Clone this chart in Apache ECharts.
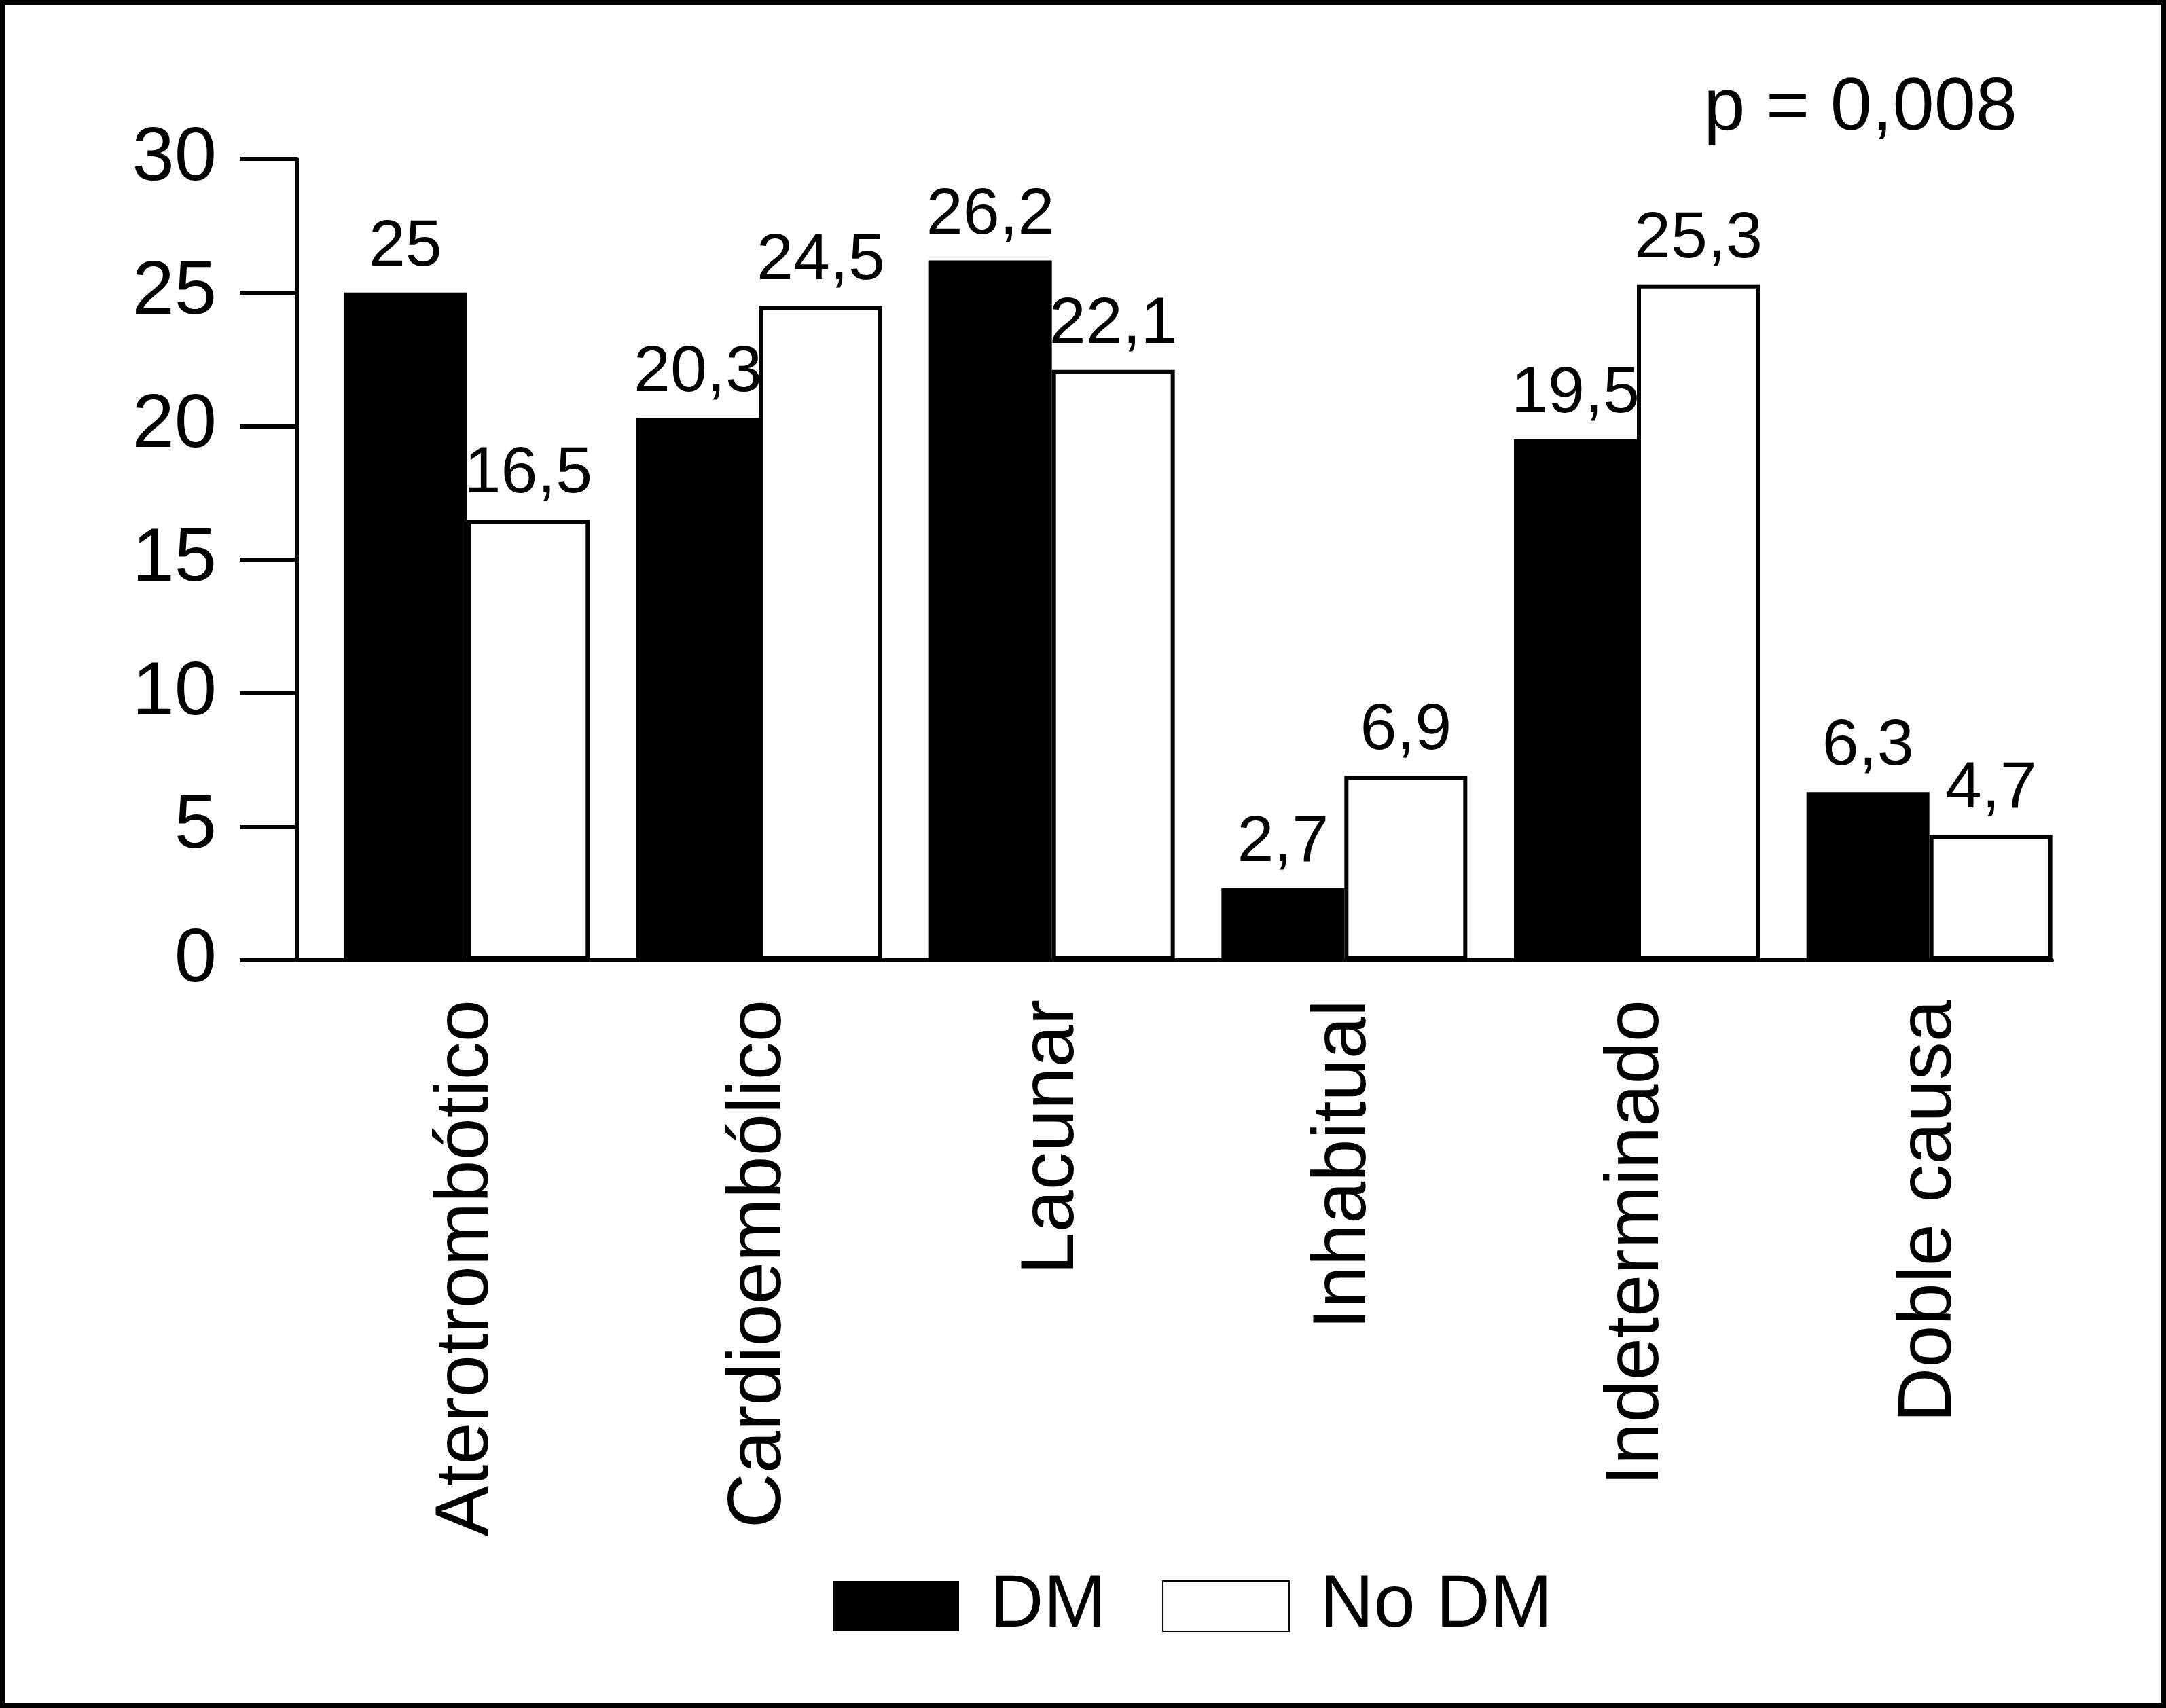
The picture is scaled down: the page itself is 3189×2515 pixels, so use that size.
<!DOCTYPE html>
<html>
<head>
<meta charset="utf-8">
<script src="https://cdn.jsdelivr.net/npm/echarts@6/dist/echarts.min.js"></script>
<style>
  html, body { margin: 0; padding: 0; background: #fff; }
  #chart { position: absolute; left: 0; top: 0; width: 3189px; height: 2515px; }
  #frame { position: absolute; left: 0; top: 0; width: 3189px; height: 2515px; box-sizing: border-box; border: 7px solid #000; pointer-events: none; }
</style>
</head>
<body>
<div id="chart"></div>
<div id="frame"></div>
<script>
const categories = ['Aterotrombótico', 'Cardioembólico', 'Lacunar', 'Inhabitual', 'Indeterminado', 'Doble causa'];
const dmValues = [25, 20.3, 26.2, 2.7, 19.5, 6.3];
const noDmValues = [16.5, 24.5, 22.1, 6.9, 25.3, 4.7];
const seriesNames = ['DM', 'No DM'];
const yTicks = { min: 0, max: 30, interval: 5 };
const pValueText = 'p = 0,008';

const FONT = 'Liberation Sans, Arial, Helvetica, sans-serif';
const fmt = v => String(v).replace('.', ',');

const chart = echarts.init(document.getElementById('chart'), null, { renderer: 'canvas' });

const gridTop = 234, gridH = 1180, gridW = 2584;

chart.setOption({
  backgroundColor: '#ffffff',
  animation: false,
  title: {
    text: pValueText,
    right: 219,
    top: 106,
    padding: 0,
    textStyle: { fontFamily: FONT, fontSize: 110, fontWeight: 'normal', color: '#000' }
  },
  legend: {
    data: seriesNames,
    left: 1226,
    top: 2310,
    padding: 0,
    itemWidth: 186,
    itemHeight: 74,
    itemGap: 83,
    icon: 'rect',
    textStyle: { fontFamily: FONT, fontSize: 110, color: '#000', padding: [0, 0, 0, 40] }
  },
  grid: [
    { left: 472, top: gridTop, width: gridW, height: gridH, containLabel: false },
    { left: 437, top: gridTop, width: gridW, height: gridH, containLabel: false }
  ],
  xAxis: [
    {
      type: 'category', gridIndex: 0, data: categories,
      axisLine: { show: false }, axisTick: { show: false },
      axisLabel: { rotate: 90, margin: 58, fontFamily: FONT, fontSize: 112, color: '#000', interval: 0 }
    },
    {
      type: 'value', gridIndex: 1, min: 0, max: 1,
      axisLine: { show: true, onZero: false, lineStyle: { color: '#000', width: 6 } },
      axisTick: { show: false }, axisLabel: { show: false }, splitLine: { show: false }
    }
  ],
  yAxis: [
    { type: 'value', gridIndex: 0, min: yTicks.min, max: yTicks.max, interval: yTicks.interval, show: false, splitLine: { show: false } },
    {
      type: 'value', gridIndex: 1, min: yTicks.min, max: yTicks.max, interval: yTicks.interval,
      axisLine: { show: true, onZero: false, lineStyle: { color: '#000', width: 6 } },
      axisTick: { show: true, length: 84, inside: false, lineStyle: { color: '#000', width: 6 } },
      axisLabel: { margin: 118, fontFamily: FONT, fontSize: 112, color: '#000' },
      splitLine: { show: false }
    }
  ],
  series: [
    {
      name: seriesNames[0], type: 'bar', xAxisIndex: 0, yAxisIndex: 0,
      data: dmValues, barWidth: 181, barGap: '0%',
      itemStyle: { color: '#000', borderColor: '#000', borderWidth: 0 },
      label: { show: true, position: 'top', distance: 18, fontFamily: FONT, fontSize: 97, color: '#000',
               formatter: p => fmt(p.value) }
    },
    {
      name: seriesNames[1], type: 'bar', xAxisIndex: 0, yAxisIndex: 0,
      data: noDmValues, barWidth: 181, barGap: '0%',
      itemStyle: { color: '#fff', borderColor: '#000', borderWidth: 6 },
      label: { show: true, position: 'top', distance: 18, fontFamily: FONT, fontSize: 97, color: '#000',
               formatter: p => fmt(p.value) }
    }
  ]
});
</script>
</body>
</html>
